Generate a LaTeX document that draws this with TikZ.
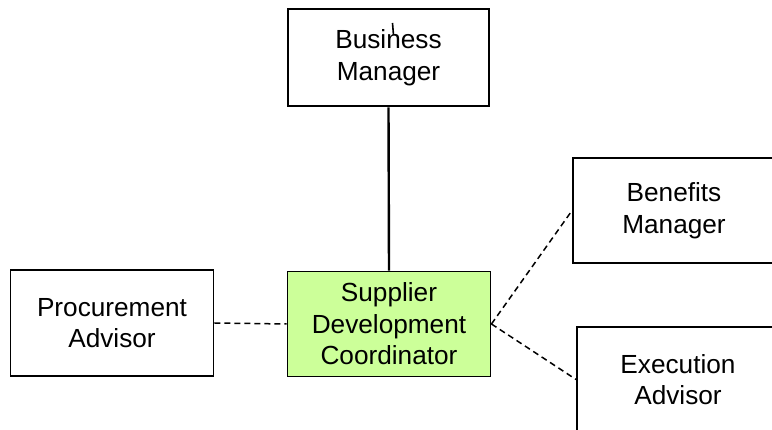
\documentclass[tikz,border=0pt]{standalone}
\usepackage{fontspec}
\setmainfont{Liberation Sans}
\definecolor{sdcgreen}{RGB}{204,255,153}
\tikzset{
  box/.style={draw=black, line width=1.9pt, fill=white, align=center, inner sep=0pt,
    minimum width=202pt, minimum height=105pt,
    font=\fontsize{26.2}{31.5}\selectfont},
  solidlink/.style={draw=black, line width=2.4pt},
  dashlink/.style={draw=black, line width=1.5pt, dash pattern=on 6pt off 4pt}
}
\begin{document}
\begin{tikzpicture}[x=1pt,y=-1pt]
\useasboundingbox (0,0) rectangle (772,430);
\clip (0,0) rectangle (772,430);
\fill[white] (0,0) rectangle (772,430);
\node[box, line width=2.7pt, minimum width=201pt, minimum height=97pt] (bm) at (388.5,57.5) {Business\\Manager};
\node[box, fill=sdcgreen, minimum width=203pt, minimum height=105pt] (sdc) at (389,324) {Supplier\\Development\\Coordinator};
\node[box, minimum width=203pt, minimum height=106pt] (pa) at (112,323) {Procurement\\Advisor};
\node[box] (ben) at (674,210.5) {Benefits\\Manager};
\node[box] (exe) at (678,379.5) {Execution\\Advisor};
\draw[solidlink] (bm.south) -- (sdc.north);
\draw[dashlink] (pa.east) -- (sdc.west);
\draw[dashlink] (sdc.east) -- (ben.west);
\draw[dashlink] (sdc.east) -- (exe.west);
\coordinate (tickA) at (392.5,23);
\coordinate (tickB) at (393.5,35);
\draw[line width=1.6pt] (tickA) -- (tickB);
\end{tikzpicture}
\end{document}
